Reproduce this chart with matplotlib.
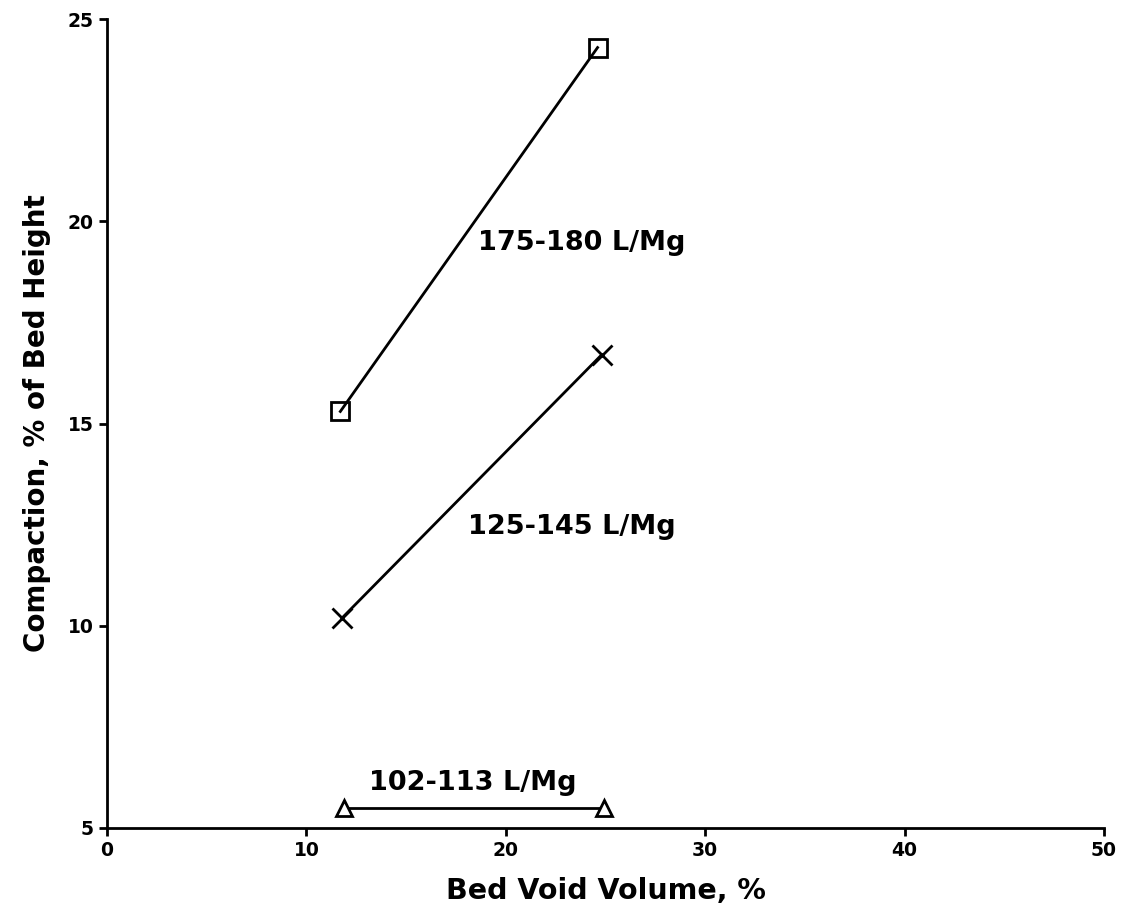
import matplotlib
matplotlib.use("Agg")
import matplotlib.pyplot as plt

# Data
void_175 = [11.7, 24.6]
comp_175 = [15.3, 24.3]
void_125 = [11.8, 24.8]
comp_125 = [10.2, 16.7]
void_102 = [11.9, 24.9]
comp_102 = [5.5, 5.5]
x_ticks = [0, 10, 20, 30, 40, 50]
y_ticks = [5, 10, 15, 20, 25]

plt.rcParams['font.family'] = ['DejaVu Sans']
plt.rcParams['font.weight'] = 'bold'

fig = plt.figure(figsize=(11.22, 9.16), dpi=100)
ax = fig.add_axes([0.0954, 0.0961, 0.984 - 0.0954, 0.979 - 0.0961])

ax.plot(void_175, comp_175, color='black', lw=2, marker='s', ms=13,
        mfc='none', mec='black', mew=2)
ax.plot(void_125, comp_125, color='black', lw=2, marker='x', ms=14,
        mec='black', mew=2)
ax.plot(void_102, comp_102, color='black', lw=2, marker='^', ms=12,
        mfc='white', mec='black', mew=2)

ax.text(23.8, 19.46, '175-180 L/Mg', fontsize=19.5, fontweight='bold', ha='center', va='center')
ax.text(23.3, 12.44, '125-145 L/Mg', fontsize=19.5, fontweight='bold', ha='center', va='center')
ax.text(18.35, 6.11, '102-113 L/Mg', fontsize=19.5, fontweight='bold', ha='center', va='center')

ax.set_xlim(0, 50)
ax.set_ylim(5, 25)
ax.set_xticks(x_ticks)
ax.set_yticks(y_ticks)
ax.spines['top'].set_visible(False)
ax.spines['right'].set_visible(False)
ax.spines['left'].set_linewidth(2)
ax.spines['bottom'].set_linewidth(2)
ax.tick_params(direction='out', length=6, width=2, labelsize=13.5)
for lab in ax.get_xticklabels() + ax.get_yticklabels():
    lab.set_fontweight('bold')

ax.set_xlabel('Bed Void Volume, %', fontsize=20.5, fontweight='bold', labelpad=12)
ax.set_ylabel('Compaction, % of Bed Height', fontsize=20, fontweight='bold', labelpad=12)

fig.savefig('out.png', dpi=100, facecolor='white')
